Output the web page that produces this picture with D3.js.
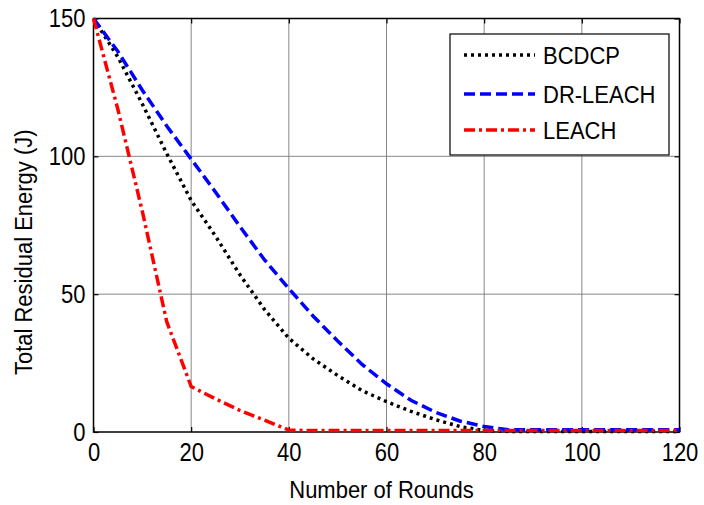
<!DOCTYPE html>
<html><head><meta charset="utf-8">
<script src="https://cdn.jsdelivr.net/npm/d3@7"></script>
<style>
body{margin:0;background:#fff;}
svg text{font-family:"Liberation Sans",Arial,sans-serif;}
</style></head>
<body><svg id="c" width="704" height="505"></svg>
<script>
const rounds = [0,5,10,15,20,25,30,35,40,45,50,55,60,65,70,75,80,85,90,95,100,105,110,115,120];
const bcdcp  = [150,136,119,101,84,71,57,44.5,34,26.5,20.5,15,11,7.5,4.5,2,0.5,0.2,0.2,0.2,0.2,0.2,0.2,0.2,0.2];
const drleach= [150,138,124,111,99,87,74.5,62.5,52,42,33,24.5,17.5,11.5,7.2,4,2,0.8,0.8,0.8,0.8,0.8,0.8,0.8,0.8];
const leach  = [150,117,80,40,16.5,12,7.8,4.3,0.7,0.5,0.5,0.5,0.5,0.5,0.5,0.5,0.5,0.5,0.5,0.5,0.5,0.5,0.5,0.5,0.5];
const xTicks = [0,20,40,60,80,100,120];
const yTicks = [0,50,100,150];
const seriesNames = ["BCDCP","DR-LEACH","LEACH"];

const svg = d3.select("#c");
svg.append("rect").attr("width",704).attr("height",505).attr("fill","#fff");
const L=93.5, R=679.5, T=18.5, B=432;
const x = d3.scaleLinear().domain([0,120]).range([L,R]);
const y = d3.scaleLinear().domain([0,150]).range([B,T]);

function stretch(sel, s){
  sel.each(function(){
    const bb = this.getBBox();
    const cy = bb.y + bb.height/2;
    const prev = this.getAttribute("transform") || "";
    this.setAttribute("transform", prev + ` translate(0,${cy}) scale(1,${s}) translate(0,${-cy})`);
  });
}

// grid
const g = svg.append("g");
g.selectAll(".vg").data(xTicks.slice(1,-1)).enter().append("line")
  .attr("x1",d=>x(d)).attr("x2",d=>x(d)).attr("y1",T).attr("y2",B)
  .attr("stroke","#7a7a7a").attr("stroke-width",0.9);
g.selectAll(".hg").data(yTicks.slice(1,-1)).enter().append("line")
  .attr("x1",L).attr("x2",R).attr("y1",d=>y(d)).attr("y2",d=>y(d))
  .attr("stroke","#7a7a7a").attr("stroke-width",0.9);

// axes with inward ticks
const fs = 22;
const xAxis = d3.axisBottom(x).tickValues(xTicks).tickSize(-5).tickPadding(12);
const yAxis = d3.axisLeft(y).tickValues(yTicks).tickSize(-5).tickPadding(8);
const xa = svg.append("g").attr("transform",`translate(0,${B})`).call(xAxis);
const ya = svg.append("g").attr("transform",`translate(${L},0)`).call(yAxis);
svg.append("g").attr("transform",`translate(0,${T})`).call(d3.axisTop(x).tickValues(xTicks).tickSize(-5).tickFormat(""));
svg.append("g").attr("transform",`translate(${R},0)`).call(d3.axisRight(y).tickValues(yTicks).tickSize(-5).tickFormat(""));
svg.selectAll(".domain").remove();
svg.selectAll(".tick line").attr("stroke","#000").attr("stroke-width",1.2);
[xa,ya].forEach(a=>a.selectAll("text").attr("font-size",fs).attr("fill","#000").attr("font-family","Liberation Sans, Arial, sans-serif"));
xa.selectAll("text").attr("dy","0.72em");
stretch(xa.selectAll("text"),1.16);
stretch(ya.selectAll("text"),1.16);

// box
svg.append("rect").attr("x",L).attr("y",T).attr("width",R-L).attr("height",B-T)
  .attr("fill","none").attr("stroke","#000").attr("stroke-width",1.5);

// lines
const line = d3.line().x((d,i)=>x(rounds[i])).y(d=>y(d));
const styles = [
  {data:bcdcp, color:"#000", w:3.5, dash:"3,4"},
  {data:drleach, color:"#0000ff", w:3.5, dash:"11,5"},
  {data:leach, color:"#ff0000", w:3.5, dash:"11,4,3,4"}
];
styles.forEach(s=>{
  svg.append("path").datum(s.data).attr("d",line).attr("fill","none")
    .attr("stroke",s.color).attr("stroke-width",s.w).attr("stroke-dasharray",s.dash);
});

// legend
const lg = svg.append("g");
lg.append("rect").attr("x",450).attr("y",34).attr("width",219).attr("height",121)
  .attr("fill","#fff").attr("stroke","#000").attr("stroke-width",1.2);
const rowsY=[55,94,130];
seriesNames.forEach((n,i)=>{
  lg.append("line").attr("x1",464).attr("x2",535).attr("y1",rowsY[i]).attr("y2",rowsY[i])
    .attr("stroke",styles[i].color).attr("stroke-width",styles[i].w).attr("stroke-dasharray",styles[i].dash);
  lg.append("text").attr("x",543).attr("y",rowsY[i]).attr("dy","0.36em").attr("font-size",fs).attr("fill","#000").text(n);
});
stretch(lg.selectAll("text"),1.12);

// axis labels
const xl = svg.append("text").attr("x",(L+R)/2-5).attr("y",497).attr("text-anchor","middle").attr("font-size",fs).text("Number of Rounds");
const yl = svg.append("text").attr("transform",`translate(31,${(T+B)/2+27}) rotate(-90)`).attr("text-anchor","middle").attr("font-size",fs).text("Total Residual Energy (J)");
stretch(xl,1.08);
stretch(yl,1.12);
</script></body></html>
